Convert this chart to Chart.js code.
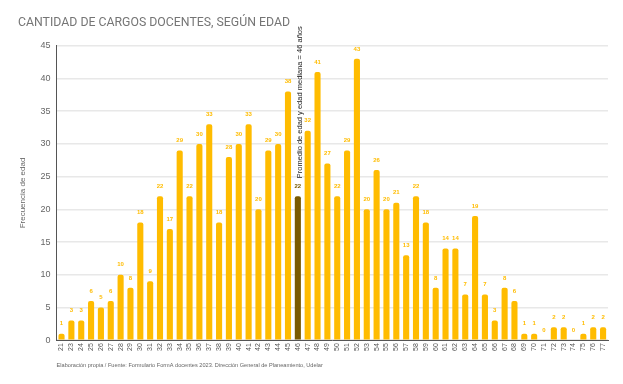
<!DOCTYPE html>
<html>
<head>
<meta charset="utf-8">
<script src="https://cdn.jsdelivr.net/npm/chart.js@4"></script>
<style>
html,body{margin:0;padding:0;background:#fff;}
#wrap{width:623px;height:384px;position:relative;}
</style>
</head>
<body>
<div id="wrap"><canvas id="c" width="623" height="384"></canvas></div>
<script>
const ages = ['21','23','24','25','26','27','28','29','30','31','32','33','34','35','36','37','38','39','40','41','42','43','44','45','46','47','48','49','50','51','52','53','54','55','56','57','58','59','60','61','62','63','64','65','66','67','68','69','70','71','72','73','74','75','76','77'];
const counts = [1,3,3,6,5,6,10,8,18,9,22,17,29,22,30,33,18,28,30,33,20,29,30,38,22,32,41,27,22,29,43,20,26,20,21,13,22,18,8,14,14,7,19,7,3,8,6,1,1,0,2,2,0,1,2,2];
const yTicks = [0,5,10,15,20,25,30,35,40,45];
const highlightAge = '46';
const titleText = 'CANTIDAD DE CARGOS DOCENTES, SEGÚN EDAD';
const yTitle = 'Frecuencia de edad';
const annotationText = 'Promedio de edad y edad mediana = 46 años';
const sourceText = 'Elaboración propia / Fuente: Formulario FormA docentes 2023. Dirección General de Planeamiento, Udelar';

const FONT = '"Liberation Sans", Arial, sans-serif';
const TFONT = 'Roboto, "Liberation Sans", sans-serif';
const BAR = '#FFBC00';
const DARK = '#7A5A00';
const colors = ages.map(a => a === highlightAge ? DARK : BAR);

const labelPlugin = {
  id: 'vals',
  afterDatasetsDraw(chart) {
    const ctx = chart.ctx;
    const meta = chart.getDatasetMeta(0);
    ctx.save();
    ctx.font = 'bold 6px ' + FONT;
    ctx.textAlign = 'center';
    ctx.textBaseline = 'middle';
    meta.data.forEach((bar, i) => {
      ctx.fillStyle = ages[i] === highlightAge ? DARK : BAR;
      ctx.fillText(String(counts[i]), bar.x, bar.y - 10);
    });
    // source footer
    ctx.font = '5.6px ' + FONT;
    ctx.fillStyle = '#666';
    ctx.textAlign = 'left';
    ctx.fillText(sourceText, chart.chartArea.left, 365);
    // annotation
    const idx = ages.indexOf(highlightAge);
    const b = meta.data[idx];
    ctx.translate(b.x + 2, chart.scales.y.getPixelForValue(counts[idx]) - 18);
    ctx.rotate(-Math.PI / 2);
    ctx.font = '7.5px ' + FONT;
    ctx.fillStyle = '#222';
    ctx.textAlign = 'left';
    ctx.textBaseline = 'middle';
    ctx.fillText(annotationText, 0, 0);
    ctx.restore();
  }
};

new Chart(document.getElementById('c'), {
  type: 'bar',
  data: {
    labels: ages,
    datasets: [{
      data: counts,
      backgroundColor: colors,
      borderRadius: {topLeft: 2, topRight: 2, bottomLeft: 0, bottomRight: 0},
      borderSkipped: 'bottom',
      barPercentage: 0.62,
      categoryPercentage: 1.0
    }]
  },
  options: {
    responsive: false,
    animation: false,
    layout: {padding: {left: 18, right: 15, top: 8, bottom: 30}},
    plugins: {
      legend: {display: false},
      tooltip: {enabled: false},
      title: {
        display: true, text: titleText, align: 'start',
        color: '#757575',
        font: {family: TFONT, size: 12.3, weight: 'normal'},
        padding: {top: 8, bottom: 15}
      }
    },
    scales: {
      x: {
        grid: {display: false, drawTicks: false},
        border: {display: true, color: '#555', width: 1},
        ticks: {
          color: '#555', maxRotation: 90, minRotation: 90, autoSkip: false,
          font: {family: FONT, size: 7},
          padding: 3
        }
      },
      y: {
        min: 0, max: 45,
        afterBuildTicks(axis) { axis.ticks = yTicks.map(v => ({value: v})); },
        grid: {color: '#e8e8e8', lineWidth: 1.5, drawTicks: false},
        border: {display: true, color: '#555', width: 1},
        ticks: {
          color: '#666', padding: 6,
          font: {family: FONT, size: 9}
        },
        title: {
          display: true, text: yTitle, color: '#666',
          font: {family: FONT, size: 8},
          padding: {top: 0, bottom: 7}
        }
      }
    }
  },
  plugins: [labelPlugin]
});
</script>
</body>
</html>
